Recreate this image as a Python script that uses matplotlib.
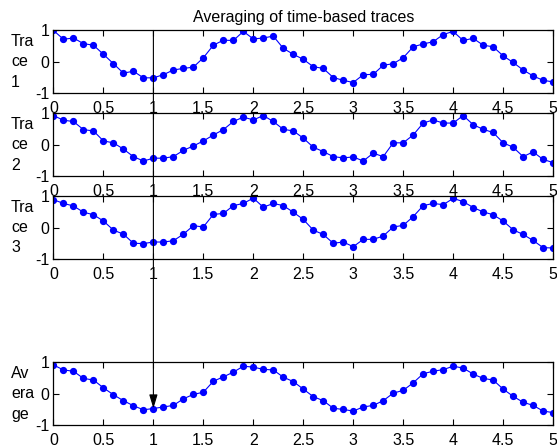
import numpy as np
import matplotlib.pyplot as plt
from matplotlib.patches import ConnectionPatch

plt.rcParams['font.family'] = ['Liberation Sans', 'DejaVu Sans']

t = np.arange(51) / 10.0

trace1 = [1.00, 0.72, 0.76, 0.58, 0.53, 0.24, -0.06, -0.36, -0.30, -0.51,
          -0.51, -0.41, -0.26, -0.21, -0.17, 0.13, 0.53, 0.69, 0.68, 0.97,
          0.73, 0.76, 0.82, 0.43, 0.24, 0.08, -0.155, -0.21, -0.50, -0.59,
          -0.66, -0.41, -0.40, -0.11, -0.06, 0.13, 0.48, 0.57, 0.64, 0.87,
          0.97, 0.68, 0.75, 0.53, 0.48, 0.19, -0.02, -0.26, -0.45, -0.59,
          -0.64]
trace2 = [0.93, 0.78, 0.74, 0.48, 0.44, 0.12, 0.06, -0.14, -0.38, -0.52,
          -0.43, -0.43, -0.38, -0.18, -0.04, 0.12, 0.31, 0.48, 0.74, 0.88,
          0.79, 0.93, 0.74, 0.49, 0.44, 0.21, -0.08, -0.22, -0.38, -0.42,
          -0.39, -0.52, -0.27, -0.38, 0.06, 0.06, 0.31, 0.69, 0.79, 0.69,
          0.69, 0.93, 0.64, 0.49, 0.39, 0.06, -0.08, -0.38, -0.23, -0.47,
          -0.57]
trace3 = [0.89, 0.77, 0.69, 0.49, 0.41, 0.21, -0.08, -0.21, -0.50, -0.51,
          -0.46, -0.46, -0.42, -0.21, 0.06, 0.02, 0.42, 0.45, 0.70, 0.77,
          0.94, 0.65, 0.77, 0.70, 0.49, 0.26, -0.08, -0.22, -0.50, -0.46,
          -0.61, -0.375, -0.375, -0.27, 0.02, 0.07, 0.35, 0.70, 0.77, 0.73,
          0.93, 0.83, 0.64, 0.50, 0.41, 0.21, -0.07, -0.22, -0.41, -0.64,
          -0.65]
average = [0.92, 0.76, 0.72, 0.49, 0.44, 0.19, -0.03, -0.22, -0.38, -0.51,
           -0.47, -0.42, -0.37, -0.16, -0.02, 0.05, 0.40, 0.54, 0.69, 0.88,
           0.85, 0.78, 0.76, 0.53, 0.39, 0.15, -0.09, -0.22, -0.46, -0.50,
           -0.55, -0.42, -0.37, -0.22, 0.02, 0.11, 0.35, 0.64, 0.72, 0.77,
           0.88, 0.82, 0.63, 0.49, 0.44, 0.15, -0.08, -0.27, -0.37, -0.55,
           -0.60]

series = [trace1, trace2, trace3, average]
labels = ['Tra\nce\n1', 'Tra\nce\n2', 'Tra\nce\n3', 'Av\nera\nge']
xticks = [0, 0.5, 1, 1.5, 2, 2.5, 3, 3.5, 4, 4.5, 5]
xticklabels = ['0', '0.5', '1', '1.5', '2', '2.5', '3', '3.5', '4', '4.5', '5']
mark_x = 1.0

fig = plt.figure(figsize=(5.57, 4.48), dpi=100)
bottoms = [0.792, 0.607, 0.422, 0.051]
axes = []
for i in range(4):
    ax = fig.add_axes([0.096, bottoms[i], 0.897, 0.140])
    ax.plot(t, series[i], '-o', color='#0000ff', lw=0.8, ms=4.2)
    ax.set_xlim(0, 5)
    ax.set_ylim(-1, 1)
    ax.set_xticks(xticks)
    ax.set_xticklabels(xticklabels)
    ax.set_yticks([-1, 0, 1])
    ax.set_yticklabels(['-1', '0', '1'])
    ax.tick_params(direction='in', top=True, right=True, length=4.5,
                   width=0.8, labelsize=11.5)
    ax.tick_params(axis='x', pad=5.5)
    ax.tick_params(axis='y', pad=3)
    for s in ax.spines.values():
        s.set_linewidth(0.9)
    ax.text(-0.085, 0.5, labels[i], transform=ax.transAxes, ha='left',
            va='center', fontsize=11.5, linespacing=1.45)
    axes.append(ax)

axes[0].set_title('Averaging of time-based traces', fontsize=11.5, pad=6)

con = ConnectionPatch(xyA=(mark_x, 1), coordsA=axes[0].transData,
                      xyB=(mark_x, average[10]), coordsB=axes[3].transData,
                      arrowstyle='-|>,head_length=0.6,head_width=0.18',
                      mutation_scale=14, color='black',
                      lw=0.8, shrinkA=0, shrinkB=0)
fig.add_artist(con)

fig.savefig('out.png', dpi=100)
